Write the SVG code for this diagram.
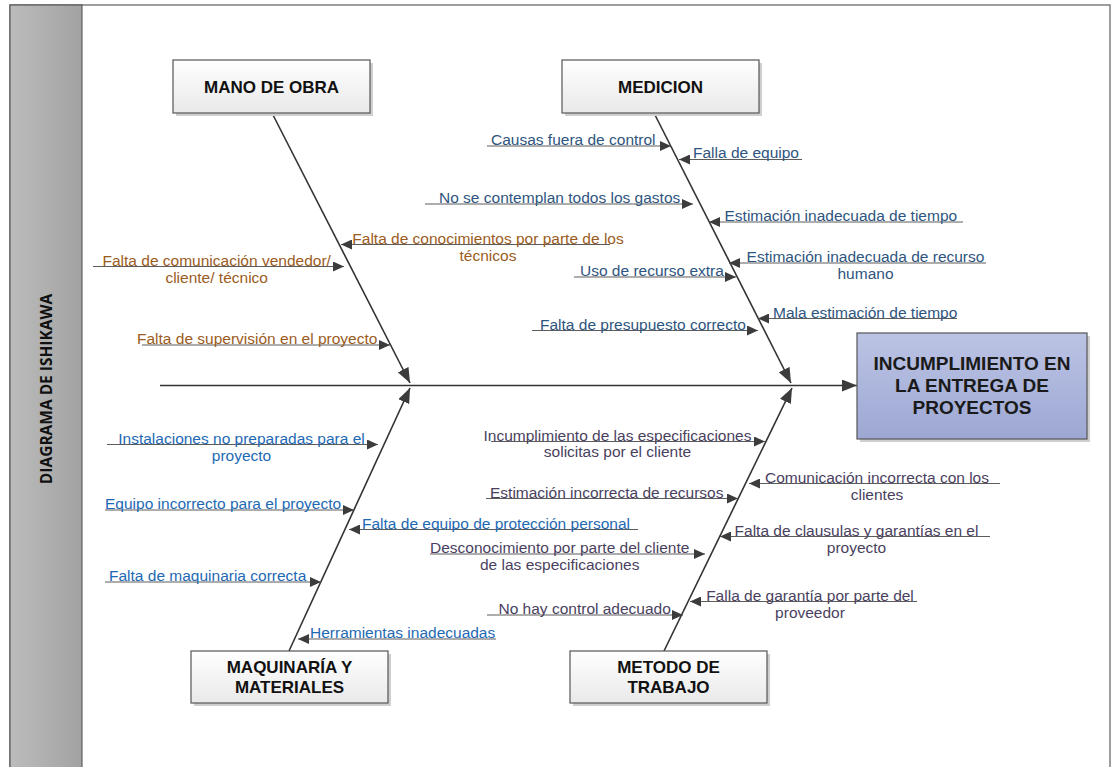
<svg xmlns="http://www.w3.org/2000/svg" width="1116" height="767" viewBox="0 0 1116 767">
  <defs>
    <linearGradient id="sideGrad" x1="0" y1="0" x2="1" y2="0">
      <stop offset="0" stop-color="#bcbcbc"/>
      <stop offset="1" stop-color="#a2a2a2"/>
    </linearGradient>
    <linearGradient id="boxGrad" x1="0" y1="0" x2="0" y2="1">
      <stop offset="0" stop-color="#ffffff"/>
      <stop offset="1" stop-color="#e9e9e9"/>
    </linearGradient>
    <linearGradient id="headGrad" x1="0" y1="0" x2="0" y2="1">
      <stop offset="0" stop-color="#bcc4e4"/>
      <stop offset="1" stop-color="#9da7d3"/>
    </linearGradient>
    <marker id="ah" markerUnits="userSpaceOnUse" markerWidth="11" markerHeight="10" refX="11" refY="5" orient="auto">
      <path d="M0,0 L11,5 L0,10 z" fill="#3c3c3c"/>
    </marker>
    <marker id="ahL" markerUnits="userSpaceOnUse" markerWidth="15" markerHeight="12" refX="15" refY="6" orient="auto">
      <path d="M0,0 L15,6 L0,12 z" fill="#3c3c3c"/>
    </marker>
  </defs>
  <style>
    .frame { fill: #ffffff; stroke: #6a6a6a; stroke-width: 1.3; }
    .side { fill: url(#sideGrad); stroke: #4a4a4a; stroke-width: 1; }
    .sidetxt { font-family: "Open Sans", "DejaVu Sans", sans-serif; font-weight: bold; font-size: 15.5px; fill: #111; }
    .box { fill: url(#boxGrad); stroke: #555; stroke-width: 1.2; }
    .shadow { fill: #cfcfcf; }
    .head { fill: url(#headGrad); stroke: #555; stroke-width: 1.2; }
    .lbl { font-family: "Liberation Sans", Arial, sans-serif; font-weight: bold; font-size: 17px; fill: #111; text-anchor: middle; }
    .hlbl { font-family: "Liberation Sans", Arial, sans-serif; font-weight: bold; font-size: 19px; fill: #1a1a1a; text-anchor: middle; }
    .spine { stroke: #333; stroke-width: 1.6; fill: none; marker-end: url(#ahL); }
    .cause { stroke: #5c5c5c; stroke-width: 1.1; fill: none; marker-end: url(#ah); }
    .t { font-family: "Liberation Sans", Arial, sans-serif; font-size: 15.5px; }
    .m { text-anchor: middle; }
    .mo { fill: #9b5c22; }
    .me { fill: #2e5580; }
    .ma { fill: #1e69b4; }
    .mt { fill: #4a3f60; }
  </style>

  <!-- page frame and title band -->
  <rect class="frame" x="10" y="5" width="1100" height="775"/>
  <rect class="side" x="10" y="5" width="72" height="775"/>
  <text class="sidetxt" transform="translate(52,389) rotate(-90)" text-anchor="middle">DIAGRAMA DE ISHIKAWA</text>

  <!-- connectors: backbone, bones and causes -->
  <g id="connectors">
    <line x1="160" y1="385.5" x2="857" y2="385.5" style="stroke:#333;stroke-width:1.6;marker-end:url(#ahL)"/>
    <line class="spine" x1="272" y1="113" x2="410" y2="383"/>
    <line class="spine" x1="654" y1="113" x2="791" y2="383"/>
    <line class="spine" x1="289" y1="651" x2="410" y2="388"/>
    <line class="spine" x1="664" y1="651" x2="792" y2="388"/>

    <!-- medicion -->
    <line class="cause" x1="487" y1="146" x2="671" y2="146"/>
    <line class="cause" x1="802" y1="159.5" x2="679" y2="159.5"/>
    <line class="cause" x1="425" y1="204" x2="693" y2="204"/>
    <line class="cause" x1="963" y1="222" x2="709" y2="222"/>
    <line class="cause" x1="986" y1="263" x2="729" y2="263"/>
    <line class="cause" x1="574" y1="277" x2="736" y2="277"/>
    <line class="cause" x1="957" y1="318.5" x2="758" y2="318.5"/>
    <line class="cause" x1="532" y1="330.5" x2="758" y2="330.5"/>

    <!-- mano de obra -->
    <line class="cause" x1="610" y1="244.5" x2="341" y2="244.5"/>
    <line class="cause" x1="93" y1="266.5" x2="344" y2="266.5"/>
    <line class="cause" x1="142" y1="345" x2="390" y2="345"/>

    <!-- maquinaria y materiales -->
    <line class="cause" x1="107" y1="444.5" x2="378" y2="444.5"/>
    <line class="cause" x1="105" y1="510" x2="354" y2="510"/>
    <line class="cause" x1="638" y1="529.5" x2="349" y2="529.5"/>
    <line class="cause" x1="105" y1="582" x2="321" y2="582"/>
    <line class="cause" x1="496" y1="639" x2="298" y2="639"/>

    <!-- metodo de trabajo -->
    <line class="cause" x1="491" y1="441.5" x2="765" y2="441.5"/>
    <line class="cause" x1="1000" y1="483.5" x2="749" y2="483.5"/>
    <line class="cause" x1="486" y1="498.5" x2="738" y2="498.5"/>
    <line class="cause" x1="990" y1="536.5" x2="720" y2="536.5"/>
    <line class="cause" x1="430" y1="554" x2="705" y2="554"/>
    <line class="cause" x1="917" y1="601.5" x2="690" y2="601.5"/>
    <line class="cause" x1="487" y1="615" x2="683" y2="615"/>
  </g>

  <!-- cause labels -->
  <g id="causes-medicion" class="t me">
    <text x="491" y="145">Causas fuera de control</text>
    <text x="693" y="158">Falla de equipo</text>
    <text x="439" y="203">No se contemplan todos los gastos</text>
    <text x="724.5" y="221">Estimación inadecuada de tiempo</text>
    <text class="m" x="865.5" y="262">Estimación inadecuada de recurso</text>
    <text class="m" x="865.5" y="279">humano</text>
    <text x="580" y="276">Uso de recurso extra</text>
    <text x="773" y="317.5">Mala estimación de tiempo</text>
    <text x="540" y="329.5">Falta de presupuesto correcto</text>
  </g>
  <g id="causes-mano" class="t mo">
    <text class="m" x="488" y="243.5">Falta de conocimientos por parte de los</text>
    <text class="m" x="488" y="261">técnicos</text>
    <text class="m" x="216.7" y="265.5">Falta de comunicación vendedor/</text>
    <text class="m" x="216.7" y="283">cliente/ técnico</text>
    <text x="137" y="344">Falta de supervisión en el proyecto</text>
  </g>
  <g id="causes-maquinaria" class="t ma">
    <text class="m" x="241.5" y="443.5">Instalaciones no preparadas para el</text>
    <text class="m" x="241.5" y="461">proyecto</text>
    <text x="105" y="509">Equipo incorrecto para el proyecto</text>
    <text x="362" y="528.5">Falta de equipo de protección personal</text>
    <text x="109" y="581">Falta de maquinaria correcta</text>
    <text x="310" y="638">Herramientas inadecuadas</text>
  </g>
  <g id="causes-metodo" class="t mt">
    <text class="m" x="617.5" y="440.5">Incumplimiento de las especificaciones</text>
    <text class="m" x="617.5" y="457">solicitas por el cliente</text>
    <text class="m" x="877" y="482.5">Comunicación incorrecta con los</text>
    <text class="m" x="877" y="500">clientes</text>
    <text x="490" y="497.5">Estimación incorrecta de recursos</text>
    <text class="m" x="856.5" y="535.5">Falta de clausulas y garantías en el</text>
    <text class="m" x="856.5" y="553">proyecto</text>
    <text class="m" x="559.7" y="553">Desconocimiento por parte del cliente</text>
    <text class="m" x="559.7" y="570">de las especificaciones</text>
    <text class="m" x="810" y="600.5">Falla de garantía por parte del</text>
    <text class="m" x="810" y="618">proveedor</text>
    <text x="498.5" y="614">No hay control adecuado</text>
  </g>

  <!-- category boxes -->
  <g id="mano-de-obra">
    <rect class="shadow" x="176" y="63" width="197" height="53"/>
    <rect class="box" x="173" y="60" width="197" height="53"/>
    <text class="lbl" x="271.5" y="92.5">MANO DE OBRA</text>
  </g>
  <g id="medicion">
    <rect class="shadow" x="565" y="63" width="197" height="53"/>
    <rect class="box" x="562" y="60" width="197" height="53"/>
    <text class="lbl" x="660.5" y="92.5">MEDICION</text>
  </g>
  <g id="maquinaria">
    <rect class="shadow" x="194" y="654" width="197" height="52"/>
    <rect class="box" x="191" y="651" width="197" height="52"/>
    <text class="lbl" x="289.5" y="673">MAQUINARÍA Y</text>
    <text class="lbl" x="289.5" y="693">MATERIALES</text>
  </g>
  <g id="metodo">
    <rect class="shadow" x="573" y="654" width="197" height="52"/>
    <rect class="box" x="570" y="651" width="197" height="52"/>
    <text class="lbl" x="668.5" y="673">METODO DE</text>
    <text class="lbl" x="668.5" y="693">TRABAJO</text>
  </g>

  <!-- effect -->
  <g id="efecto">
    <rect class="shadow" x="860" y="336" width="230" height="106"/>
    <rect class="head" x="857" y="333" width="230" height="106"/>
    <text class="hlbl" x="972" y="370">INCUMPLIMIENTO EN</text>
    <text class="hlbl" x="972" y="392">LA ENTREGA DE</text>
    <text class="hlbl" x="972" y="414">PROYECTOS</text>
  </g>
</svg>
